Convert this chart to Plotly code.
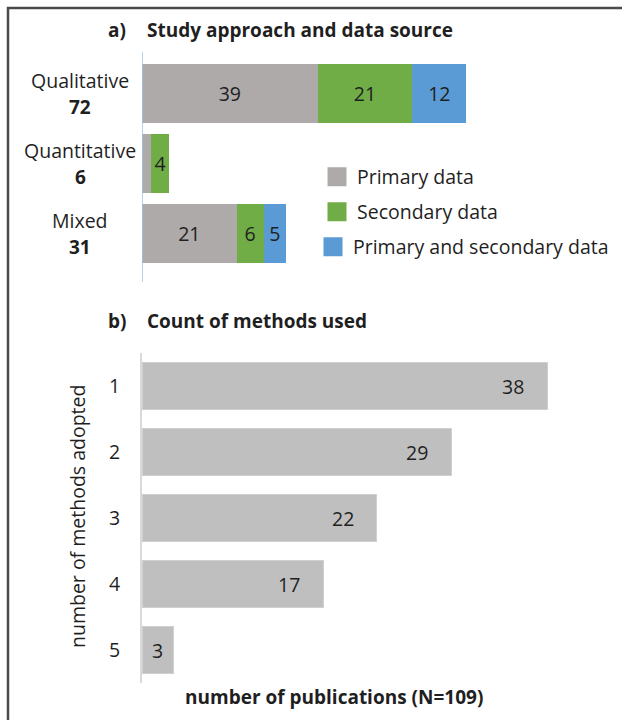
import plotly.graph_objects as go

# ---- data -------------------------------------------------------------
approaches = ["Qualitative", "Quantitative", "Mixed"]
approach_totals = [72, 6, 31]
primary = [39, 2, 21]
secondary = [21, 4, 6]
both = [12, 0, 5]
primary_labels = ["39", "", "21"]
secondary_labels = ["21", "4", "6"]
both_labels = ["12", "", "5"]

method_counts = ["1", "2", "3", "4", "5"]
publications = [38, 29, 22, 17, 3]

source_names = ["Primary data", "Secondary data", "Primary and secondary data"]
source_colors = ["#AEAAAA", "#70AD47", "#5B9BD5"]

# ---- page geometry (pixels) -------------------------------------------
W, H = 622, 720
FONT = "Open Sans"
TXT = "#1f1f1f"
FS = 19.5      # regular text
FSB = 19       # bold text


def px(x):
    return x / W


def py(y):
    return 1 - y / H


fig = go.Figure()

# ---- panel a: stacked bars ---------------------------------------------
for name, vals, labels, color in zip(
    source_names, [primary, secondary, both],
    [primary_labels, secondary_labels, both_labels], source_colors
):
    fig.add_trace(go.Bar(
        y=approaches, x=vals, orientation="h", name=name,
        marker=dict(color=color, line=dict(width=0)),
        text=labels, textposition="inside", insidetextanchor="middle",
        textfont=dict(family=FONT, size=FS, color=TXT),
        showlegend=False, xaxis="x", yaxis="y", hoverinfo="x+y+name",
    ))

# legend entries, one legend per series so each row can be placed freely
legend_rows_y = [177, 212, 247]
legend_keys = ["legend", "legend2", "legend3"]
for name, color, key in zip(source_names, source_colors, legend_keys):
    fig.add_trace(go.Scatter(
        x=[None], y=[None], mode="markers", name=name, legend=key,
        marker=dict(symbol="square", size=16, color=color,
                    line=dict(color=color, width=3)),
        showlegend=True, xaxis="x", yaxis="y",
    ))

# ---- panel b: simple bars ------------------------------------------------
fig.add_trace(go.Bar(
    y=method_counts, x=publications, orientation="h", width=0.727,
    marker=dict(color="#BFBFBF", line=dict(color="#D0D0D0", width=1)),
    showlegend=False, xaxis="x2", yaxis="y2", hoverinfo="x+y",
))

# ---- axes ----------------------------------------------------------------
scale_a = 4.505   # px per publication, panel a
scale_b = 10.66   # px per publication, panel b
xa0, xa1 = 142, 602

fig.update_layout(
    width=W, height=H,
    margin=dict(l=0, r=0, t=0, b=0),
    template="none",
    paper_bgcolor="white", plot_bgcolor="white",
    barmode="stack",
    bargap=0.17,
    font=dict(family=FONT, size=FS, color=TXT),
    xaxis=dict(domain=[px(xa0), px(xa1)], range=[0, (xa1 - xa0) / scale_a],
               visible=False, fixedrange=True),
    yaxis=dict(domain=[py(268.5), py(58.5)], autorange="reversed",
               categoryorder="array", categoryarray=approaches,
               showticklabels=False, showline=False, showgrid=False,
               zeroline=False, ticks=""),
    xaxis2=dict(domain=[px(xa0), px(xa1)], range=[0, (xa1 - xa0) / scale_b],
                anchor="y2", visible=False, fixedrange=True),
    yaxis2=dict(domain=[py(683), py(353)], anchor="x2", autorange="reversed",
                categoryorder="array", categoryarray=method_counts,
                showline=True, linecolor="#D9D9D9", linewidth=2,
                showgrid=False, zeroline=False, ticks="",
                ticklabelstandoff=16,
                tickfont=dict(family=FONT, size=FS, color=TXT)),
    uniformtext=dict(minsize=FS, mode="show"),
)

legend_common = dict(
    xanchor="left", yanchor="middle", bgcolor="rgba(0,0,0,0)",
    borderwidth=0, font=dict(family=FONT, size=FS, color=TXT),
    itemclick=False, itemdoubleclick=False,
)
fig.update_layout(
    legend=dict(x=px(317), y=py(legend_rows_y[0]), **legend_common),
    legend2=dict(x=px(317), y=py(legend_rows_y[1]), **legend_common),
    legend3=dict(x=px(313), y=py(legend_rows_y[2]), **legend_common),
)

# ---- shapes: axis line of panel a and outer frame ----------------------
shapes = [
    dict(type="line", xref="x", yref="paper", x0=0, x1=0,
         y0=py(282), y1=py(52), line=dict(color="#9DC3E6", width=1.5)),
    dict(type="rect", xref="paper", yref="paper",
         x0=px(8), x1=px(W + 20), y0=py(H + 20), y1=py(8),
         line=dict(color="#4a4a4a", width=2.5), fillcolor="rgba(0,0,0,0)"),
]
fig.update_layout(shapes=shapes)

# ---- annotations ---------------------------------------------------------
ann = []
# panel titles
for y, tag, title in [(30, "a)", "Study approach and data source"),
                      (321, "b)", "Count of methods used")]:
    ann.append(dict(x=px(106), y=py(y), xref="paper", yref="paper",
                    text=f"<b>{tag}</b>", showarrow=False,
                    xanchor="left", yanchor="middle",
                    font=dict(family=FONT, size=FSB, color=TXT)))
    ann.append(dict(x=px(145), y=py(y), xref="paper", yref="paper",
                    text=f"<b>{title}</b>", showarrow=False,
                    xanchor="left", yanchor="middle",
                    font=dict(family=FONT, size=FSB, color=TXT)))

# panel a category labels with bold totals
for cat, total in zip(approaches, approach_totals):
    ann.append(dict(x=px(80), y=cat, xref="paper", yref="y", yshift=13.5,
                    text=cat, showarrow=False, xanchor="center",
                    yanchor="middle",
                    font=dict(family=FONT, size=FS, color=TXT)))
    ann.append(dict(x=px(80), y=cat, xref="paper", yref="y", yshift=-13.5,
                    text=f"<b>{total}</b>", showarrow=False,
                    xanchor="center", yanchor="middle",
                    font=dict(family=FONT, size=FSB, color=TXT)))

# panel b value labels, set just inside the bar ends
inset = 34 / scale_b
for cat, v in zip(method_counts, publications):
    ann.append(dict(x=max(v - inset, v / 2), y=cat, xref="x2", yref="y2",
                    text=str(v), showarrow=False, xanchor="center",
                    yanchor="middle",
                    font=dict(family=FONT, size=FS, color=TXT)))

# panel b axis titles
ann.append(dict(x=px(77), y=py(517), xref="paper", yref="paper",
                text="number of methods adopted", textangle=-90,
                showarrow=False, xanchor="center", yanchor="middle",
                font=dict(family=FONT, size=FS, color=TXT)))
ann.append(dict(x=px(334), y=py(697), xref="paper", yref="paper",
                text="<b>number of publications (N=109)</b>",
                showarrow=False, xanchor="center", yanchor="middle",
                font=dict(family=FONT, size=FSB, color=TXT)))

fig.update_layout(annotations=ann)

fig.write_html("out.html")
